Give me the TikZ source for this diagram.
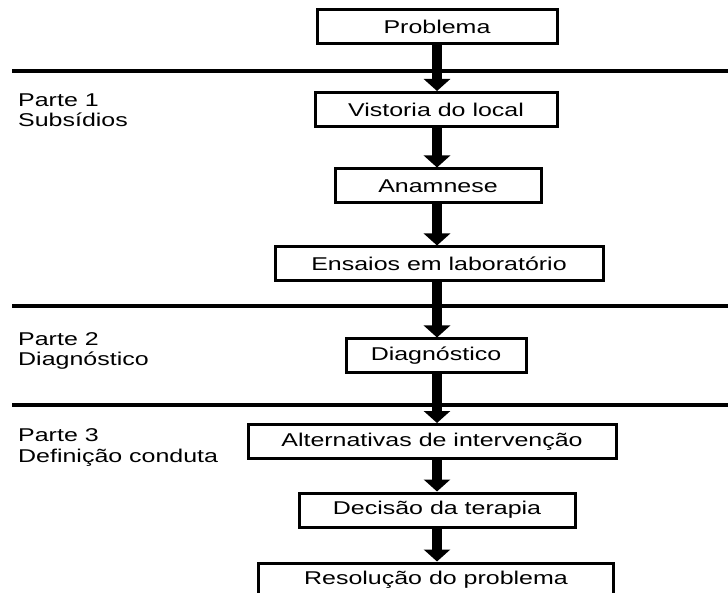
\documentclass[tikz,border=0pt]{standalone}
\usepackage{fontspec}
\setmainfont{Liberation Sans}[FakeStretch=1.35]
\usetikzlibrary{arrows.meta}
\tikzset{
  stepbox/.style={draw=black, line width=3pt, minimum height=34pt, inner sep=0pt,
    font=\fontsize{18.5}{20.5}\selectfont, fill=white},
  partlabel/.style={anchor=west, align=left, inner sep=0pt,
    font=\fontsize{18.5}{20.5}\selectfont},
  divider/.style={line width=4pt, black},
  bigarrow/.style={line width=10pt, -{Triangle[width=26pt,length=12pt]}}
}
\begin{document}
\begin{tikzpicture}[x=1pt,y=-1pt]
\useasboundingbox (0,0) rectangle (728,593);
\clip (0,0) rectangle (728,593);
% dividers
\coordinate (l1a) at (12,71);  \coordinate (l1b) at (740,71);
\coordinate (l2a) at (12,306); \coordinate (l2b) at (740,306);
\coordinate (l3a) at (12,405); \coordinate (l3b) at (740,405);
\draw[divider] (l1a) -- (l1b);
\draw[divider] (l2a) -- (l2b);
\draw[divider] (l3a) -- (l3b);
% boxes
\node[stepbox, minimum width=240pt] (prob) at (437,26.5) {Problema};
\node[stepbox, minimum width=242pt] (vist) at (436,109.5) {Vistoria do local};
\node[stepbox, minimum width=206pt] (anam) at (438,186) {Anamnese};
\node[stepbox, minimum width=328pt] (ens)  at (439,264) {Ensaios em laboratório};
\node[stepbox, minimum width=180pt] (diag) at (436,356) {Diagnóstico};
\node[stepbox, minimum width=368pt] (alt)  at (432,441.5) {Alternativas de intervenção};
\node[stepbox, minimum width=276pt] (dec)  at (437,510) {Decisão da terapia};
\node[stepbox, minimum width=355pt] (res)  at (436,580) {Resolução do problema};
% labels
\node[partlabel] (p1) at (18,110) {Parte 1\\Subsídios};
\node[partlabel] (p2) at (18,351) {Parte 2\\Diagnóstico};
\node[partlabel] (p3) at (18,447.5) {Parte 3\\Definição conduta};
% arrows
\draw[bigarrow] (prob.south -| 437,0) -- (vist.north -| 437,0);
\draw[bigarrow] (vist.south -| 437,0) -- (anam.north -| 437,0);
\draw[bigarrow] (anam.south -| 437,0) -- (ens.north -| 437,0);
\draw[bigarrow] (ens.south -| 437,0) -- (diag.north -| 437,0);
\draw[bigarrow] (diag.south -| 437,0) -- (alt.north -| 437,0);
\draw[bigarrow] (alt.south -| 437,0) -- (dec.north -| 437,0);
\draw[bigarrow] (dec.south -| 437,0) -- (res.north -| 437,0);
\end{tikzpicture}
\end{document}
